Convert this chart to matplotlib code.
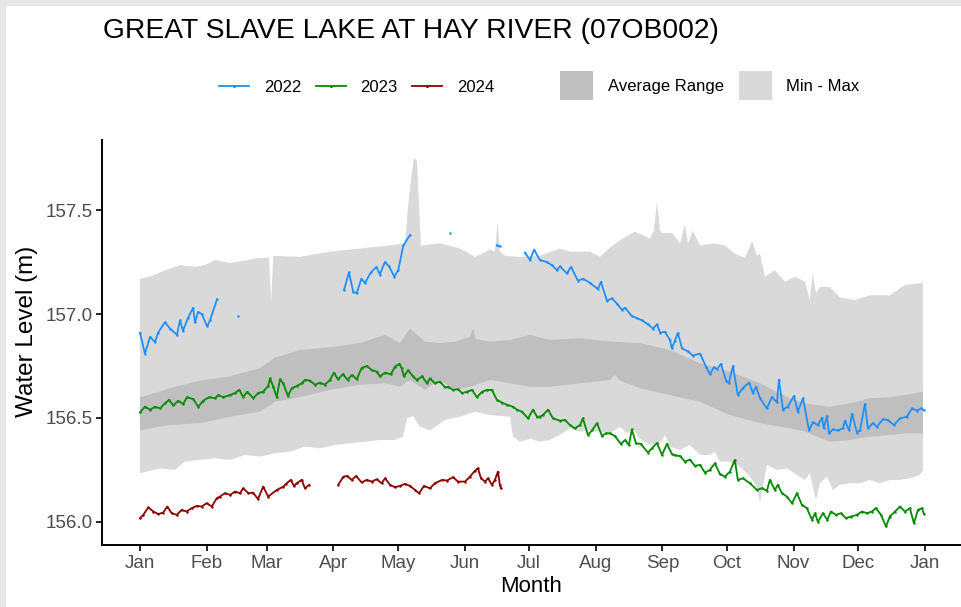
import numpy as np
import matplotlib.pyplot as plt
from matplotlib.lines import Line2D
from matplotlib.patches import Patch, Rectangle

plt.rcParams['font.family'] = ['Liberation Sans', 'DejaVu Sans']

# day of year (0 = Jan 1) for month ticks
month_days = [0, 31, 59, 90, 120, 151, 181, 212, 243, 273, 304, 334, 365]
month_labels = ['Jan', 'Feb', 'Mar', 'Apr', 'May', 'Jun',
                'Jul', 'Aug', 'Sep', 'Oct', 'Nov', 'Dec', 'Jan']
y_ticks = [156.0, 156.5, 157.0, 157.5]

# historical min - max envelope
max_days = [0, 4.7, 11.6, 18.6, 25.6, 30.2, 34.9, 41.9, 55.8, 60, 61, 62,
            74.4, 88.4, 102.3, 116.3, 123.3, 125, 127.4, 128.8, 130.7, 139.5,
            148.8, 155.8, 162.8, 165.1, 166.3, 167.4, 169.8, 176.7, 186, 195.3,
            200, 209.3, 214, 218.6, 223.3, 230.2, 237.2, 239, 240.5, 241.9,
            242.8, 247.4, 251.2, 253.5, 254.9, 257.2, 260.5, 267.4, 272.1,
            276.7, 281.4, 284.7, 287, 288.4, 290.7, 295.3, 300, 304.7, 309.3,
            311.6, 313, 314.4, 316.3, 320.9, 325.6, 332.6, 339.5, 348.8, 355.8,
            362.8, 364.2]
max_vals = [157.17, 157.18, 157.21, 157.235, 157.227, 157.235, 157.26, 157.245,
            157.27, 157.27, 157.06, 157.28, 157.275, 157.30, 157.315, 157.33,
            157.34, 157.55, 157.75, 157.74, 157.33, 157.34, 157.315, 157.275,
            157.31, 157.30, 157.44, 157.30, 157.28, 157.275, 157.28, 157.315,
            157.30, 157.30, 157.275, 157.32, 157.356, 157.396, 157.364, 157.40,
            157.54, 157.40, 157.39, 157.39, 157.34, 157.43, 157.34, 157.40,
            157.33, 157.34, 157.33, 157.29, 157.27, 157.35, 157.28, 157.29,
            157.18, 157.21, 157.155, 157.18, 157.155, 157.067, 157.20, 157.10,
            157.13, 157.13, 157.08, 157.067, 157.09, 157.09, 157.14, 157.148,
            157.15]
min_days = [0, 9.3, 16.3, 20.9, 27.9, 34.9, 41.9, 48.8, 55.8, 62.8, 69.8, 76.7,
            83.7, 90.7, 97.7, 104.7, 111.6, 118.6, 122.3, 124.2, 127, 130.2,
            134.9, 141.9, 148.8, 155.8, 162.8, 172.1, 173.5, 176.7, 181.4, 186,
            190.7, 195.3, 200, 204.7, 209.3, 214, 218.6, 223.3, 226.5, 229.3,
            232.6, 237.2, 241.9, 244.2, 246.5, 251.2, 255.8, 260.5, 265.1,
            267.4, 269.8, 274.4, 279.1, 283.7, 287, 288.4, 289.8, 291.6, 296.3,
            300.9, 305.6, 309.3, 311.6, 314.4, 316.3, 319.5, 322.3, 325.6,
            330.2, 334.9, 339.5, 344.2, 348.8, 353.5, 358.1, 362.8, 364.2]
min_vals = [156.234, 156.258, 156.25, 156.29, 156.298, 156.306, 156.298,
            156.322, 156.314, 156.33, 156.338, 156.362, 156.354, 156.37, 156.378,
            156.386, 156.394, 156.394, 156.41, 156.498, 156.51, 156.458, 156.44,
            156.49, 156.506, 156.53, 156.514, 156.506, 156.41, 156.386, 156.40,
            156.386, 156.394, 156.418, 156.45, 156.434, 156.44, 156.434, 156.426,
            156.458, 156.426, 156.45, 156.40, 156.37, 156.378, 156.418, 156.362,
            156.346, 156.37, 156.322, 156.322, 156.338, 156.29, 156.29, 156.266,
            156.218, 156.17, 156.09, 156.17, 156.274, 156.25, 156.258, 156.226,
            156.202, 156.234, 156.106, 156.186, 156.218, 156.154, 156.178,
            156.186, 156.186, 156.202, 156.186, 156.202, 156.202, 156.21,
            156.226, 156.25]

# average range (upper / lower quartile band)
avg_hi_days = [0, 7, 14, 27.9, 41.9, 55.8, 62.8, 74.4, 88.4, 102.3, 114, 120.9,
               125.6, 132.6, 139.5, 146.5, 153.5, 154.9, 156.3, 162.8, 172.1,
               181.4, 190.7, 204.7, 218.6, 232.6, 246.5, 260.5, 274.4, 288.4,
               302.3, 309.3, 320.9, 330.2, 339.5, 348.8, 355.8, 364.2]
avg_hi_vals = [156.60, 156.62, 156.643, 156.68, 156.70, 156.74, 156.79, 156.827,
               156.84, 156.86, 156.90, 156.86, 156.93, 156.867, 156.86, 156.867,
               156.89, 156.93, 156.88, 156.867, 156.875, 156.90, 156.875,
               156.884, 156.867, 156.86, 156.827, 156.763, 156.723, 156.667,
               156.595, 156.57, 156.554, 156.57, 156.595, 156.60, 156.61, 156.626]
avg_lo_days = [0, 7, 14, 27.9, 41.9, 55.8, 62.8, 74.4, 88.4, 102.3, 114, 120.9,
               125.6, 132.6, 139.5, 146.5, 153.5, 162.8, 172.1, 181.4, 190.7,
               204.7, 218.6, 220.9, 223.3, 232.6, 246.5, 260.5, 274.4, 288.4,
               302.3, 309.3, 320.9, 330.2, 339.5, 348.8, 355.8, 364.2]
avg_lo_vals = [156.44, 156.455, 156.466, 156.475, 156.506, 156.53, 156.578,
               156.60, 156.635, 156.66, 156.667, 156.65, 156.683, 156.635,
               156.683, 156.635, 156.65, 156.683, 156.667, 156.65, 156.65,
               156.667, 156.683, 156.707, 156.68, 156.643, 156.61, 156.578,
               156.514, 156.475, 156.45, 156.434, 156.386, 156.394, 156.41,
               156.418, 156.426, 156.426]

# 2022 daily levels (separate pieces where data are missing)
d22_a = [0, 2.3, 4.7, 7.0, 8.4, 11.6, 14.0, 17.2, 18.6, 20.0, 22.3, 24.7, 25.6,
         27.0, 28.8, 31.2, 32.6, 35.8]
v22_a = [156.91, 156.81, 156.89, 156.865, 156.91, 156.96, 156.93, 156.90,
         156.97, 156.92, 156.98, 157.03, 156.96, 157.01, 157.00, 156.94,
         156.97, 157.07]
d22_b = [45.6]
v22_b = [156.99]
d22_c = [94.9, 97.2, 99.2, 100.8, 103.0, 104.7, 107.4, 110.0, 111.6, 113.9,
         115.8, 118.3, 120.1, 122.5, 125.6]
v22_c = [157.115, 157.20, 157.107, 157.10, 157.17, 157.15, 157.20, 157.227,
         157.19, 157.25, 157.23, 157.18, 157.21, 157.33, 157.38]
d22_d = [144.2]
v22_d = [157.39]
d22_e = [166.0, 167.5]
v22_e = [157.33, 157.325]
d22_f = [179.1, 181.4, 183.3, 186.0, 189.3, 191.6, 194.0, 195.3, 198.6, 200.5,
         203.7, 206.0, 209.3, 213.0, 214.4, 217.2, 219.5, 221.9, 224.2, 225.6,
         228.8, 231.2, 233.5, 236.3, 238.6, 240.5, 241.9, 244.2, 246.5, 247.4,
         248.8, 250.2, 252.1, 254.9, 257.2, 260.5, 263.3, 265.1, 267.0, 268.4,
         270.2, 272.6, 273.9, 275.8, 278.1, 280.5, 283.3, 285.1, 286.5, 288.4,
         291.6, 293.9, 296.3, 297.2, 299.1, 301.4, 304.2, 306.0, 308.4, 311.2,
         313.0, 315.3, 317.2, 318.1, 319.5, 320.5, 322.3, 324.7, 327.0, 327.9,
         329.8, 331.2, 333.5, 334.9, 337.2, 338.6, 340.9, 342.8, 345.6, 347.9,
         350.7, 353.5, 356.7, 359.1, 361.4, 363.3, 364.7]
v22_f = [157.295, 157.26, 157.31, 157.26, 157.25, 157.235, 157.21, 157.23,
         157.195, 157.227, 157.16, 157.17, 157.15, 157.12, 157.155, 157.064,
         157.075, 157.05, 157.02, 157.03, 156.99, 156.98, 156.97, 156.95,
         156.93, 156.95, 156.91, 156.915, 156.875, 156.835, 156.87, 156.91,
         156.835, 156.82, 156.80, 156.81, 156.747, 156.71, 156.745, 156.734,
         156.76, 156.68, 156.667, 156.75, 156.61, 156.645, 156.67, 156.62,
         156.65, 156.595, 156.546, 156.60, 156.575, 156.685, 156.54, 156.555,
         156.606, 156.53, 156.595, 156.44, 156.48, 156.466, 156.50, 156.45,
         156.51, 156.426, 156.445, 156.44, 156.45, 156.487, 156.44, 156.52,
         156.43, 156.44, 156.567, 156.45, 156.475, 156.458, 156.494, 156.49,
         156.466, 156.498, 156.506, 156.546, 156.535, 156.546, 156.538]

# 2023 daily levels
d23 = [0, 2.3, 4.7, 7.0, 9.3, 11.6, 13.5, 15.5, 17.8, 20.1, 21.9, 24.8, 27.1,
       29.4, 32.2, 34.9, 36.4, 38.8, 41.9, 44.2, 46.2, 48.0, 49.9, 52.7, 55.0,
       57.3, 59.6, 60.5, 62.0, 63.6, 65.1, 66.6, 68.8, 70.6, 73.0, 75.3, 76.7,
       79.1, 81.4, 83.7, 86.0, 88.4, 90.2, 92.1, 94.4, 96.6, 98.6, 100.8, 103.1,
       105.5, 107.8, 110.1, 111.6, 114.0, 116.7, 118.6, 120.7, 121.7, 122.8,
       124.7, 127.0, 128.8, 131.2, 133.5, 134.9, 137.2, 139.5, 141.9, 143.3,
       145.6, 147.9, 149.8, 152.1, 154.4, 156.7, 159.1, 161.4, 163.7, 166.0,
       168.4, 170.7, 173.5, 175.3, 177.7, 180.5, 182.8, 184.7, 186.0, 187.4,
       189.8, 192.1, 195.3, 197.7, 200.0, 202.3, 204.7, 206.0, 208.4, 210.2,
       212.6, 214.9, 216.7, 218.6, 220.9, 223.7, 225.6, 227.4, 228.8, 230.7,
       233.0, 236.3, 238.1, 240.5, 242.8, 245.1, 247.4, 248.8, 251.2, 253.5,
       255.8, 258.1, 260.5, 262.8, 265.1, 267.4, 269.8, 272.1, 274.4, 276.7,
       278.1, 280.5, 283.7, 287.0, 289.3, 291.6, 293.0, 295.3, 296.7, 298.6,
       300.9, 303.3, 305.6, 307.9, 310.2, 312.6, 314.0, 315.3, 317.7, 319.7,
       321.4, 323.7, 326.0, 328.4, 330.7, 333.5, 335.8, 338.1, 340.5, 342.3,
       344.7, 347.0, 348.8, 351.2, 353.5, 355.8, 358.1, 360.0, 361.9, 363.7,
       364.7]
v23 = [156.527, 156.554, 156.54, 156.554, 156.546, 156.57, 156.587, 156.56,
       156.583, 156.567, 156.60, 156.59, 156.554, 156.583, 156.60, 156.595,
       156.61, 156.60, 156.61, 156.62, 156.635, 156.60, 156.626, 156.595,
       156.62, 156.626, 156.654, 156.69, 156.65, 156.60, 156.686, 156.667,
       156.606, 156.643, 156.654, 156.667, 156.683, 156.68, 156.66, 156.67,
       156.66, 156.683, 156.718, 156.686, 156.71, 156.683, 156.707, 156.686,
       156.74, 156.75, 156.73, 156.723, 156.70, 156.718, 156.71, 156.747,
       156.76, 156.74, 156.70, 156.73, 156.70, 156.683, 156.70, 156.667,
       156.69, 156.667, 156.675, 156.647, 156.65, 156.635, 156.638, 156.62,
       156.626, 156.635, 156.60, 156.626, 156.635, 156.635, 156.587, 156.574,
       156.563, 156.554, 156.54, 156.53, 156.498, 156.54, 156.506, 156.506,
       156.514, 156.54, 156.498, 156.487, 156.49, 156.466, 156.45, 156.466,
       156.498, 156.418, 156.44, 156.475, 156.413, 156.426, 156.426, 156.413,
       156.375, 156.394, 156.37, 156.445, 156.378, 156.375, 156.333, 156.354,
       156.38, 156.322, 156.375, 156.327, 156.32, 156.317, 156.29, 156.30,
       156.27, 156.274, 156.237, 156.25, 156.282, 156.23, 156.218, 156.242,
       156.298, 156.202, 156.21, 156.186, 156.154, 156.162, 156.15, 156.202,
       156.154, 156.178, 156.138, 156.122, 156.09, 156.138, 156.082, 156.066,
       156.01, 156.042, 156.0, 156.042, 156.01, 156.05, 156.034, 156.042,
       156.018, 156.026, 156.034, 156.05, 156.042, 156.05, 156.066, 156.034,
       155.978, 156.026, 156.05, 156.074, 156.05, 156.066, 155.994, 156.058,
       156.066, 156.038]

# 2024 daily levels
d24_a = [0, 1.5, 3.9, 6.2, 8.5, 10.8, 12.7, 14.7, 17.1, 19.4, 21.7, 24.0, 26.4,
         28.7, 31.0, 33.4, 35.7, 37.2, 39.5, 41.9, 44.2, 46.5, 48.0, 50.4, 52.6,
         54.9, 57.3, 59.6, 63.7, 66.7, 67.9, 70.1, 71.6, 72.9, 75.2, 76.7, 78.7]
v24_a = [156.018, 156.034, 156.07, 156.05, 156.038, 156.045, 156.074, 156.042,
         156.034, 156.058, 156.05, 156.066, 156.077, 156.074, 156.09, 156.074,
         156.114, 156.122, 156.138, 156.13, 156.146, 156.138, 156.162, 156.138,
         156.141, 156.11, 156.17, 156.122, 156.154, 156.17, 156.183, 156.202,
         156.173, 156.186, 156.202, 156.162, 156.178]
d24_b = [92.2, 94.6, 96.4, 98.5, 100.5, 103.1, 105.4, 107.8, 110.1, 112.4, 114.0,
         116.3, 118.6, 120.9, 123.3, 125.6, 127.9, 129.8, 132.1, 134.9, 137.2,
         140.5, 142.8, 145.6, 147.9, 151.2, 153.5, 155.8, 157.2, 158.6, 160.5,
         161.9, 163.7, 165.1, 166.5, 167.4, 167.9]
v24_b = [156.178, 156.218, 156.221, 156.202, 156.221, 156.19, 156.202, 156.194,
         156.205, 156.186, 156.21, 156.178, 156.167, 156.173, 156.183, 156.173,
         156.154, 156.138, 156.173, 156.162, 156.186, 156.202, 156.199, 156.215,
         156.194, 156.194, 156.218, 156.246, 156.258, 156.21, 156.194, 156.21,
         156.178, 156.202, 156.242, 156.178, 156.162]


def join(*pieces):
    # glue (days, values) pieces together with NaN gaps
    xs, ys = [], []
    for d, v in pieces:
        xs += list(d) + [np.nan]
        ys += list(v) + [np.nan]
    return np.array(xs), np.array(ys)


x22, y22 = join((d22_a, v22_a), (d22_b, v22_b), (d22_c, v22_c),
                (d22_d, v22_d), (d22_e, v22_e), (d22_f, v22_f))
x24, y24 = join((d24_a, v24_a), (d24_b, v24_b))

c22, c23, c24 = '#1E90FF', '#008B00', '#8B0000'
c_avg, c_mm = '#BFBFBF', '#D9D9D9'

fig = plt.figure(figsize=(9.61, 6.07), dpi=100)
fig.patch.set_facecolor('white')
# light grey screenshot frame on left and top
fig.patches.append(Rectangle((0, 0), 5 / 961, 1, transform=fig.transFigure,
                             color='#E4E6E8', zorder=0))
fig.patches.append(Rectangle((0, 1 - 5 / 607), 1, 5 / 607, transform=fig.transFigure,
                             color='#E4E6E8', zorder=0))

ax = fig.add_axes([102 / 961, 62 / 607, 859 / 961, 405 / 607])
ax.set_facecolor('white')

ax.fill(np.concatenate([max_days, min_days[::-1]]),
        np.concatenate([max_vals, min_vals[::-1]]),
        color=c_mm, lw=0, zorder=1)
ax.fill(np.concatenate([avg_hi_days, avg_lo_days[::-1]]),
        np.concatenate([avg_hi_vals, avg_lo_vals[::-1]]),
        color=c_avg, lw=0, zorder=2)

for x, y, c in [(x22, y22, c22), (np.array(d23), np.array(v23), c23), (x24, y24, c24)]:
    ax.plot(x, y, color=c, lw=1.3, zorder=3)
    ax.plot(x, y, '.', color=c, ms=1.5, zorder=3)

ax.set_xlim(-17.67, 381.9)
ax.set_ylim(155.889, 157.837)
ax.set_xticks(month_days)
ax.set_xticklabels(month_labels)
ax.set_yticks(y_ticks)
ax.set_yticklabels([f'{t:.1f}' for t in y_ticks])
ax.tick_params(axis='both', length=4, width=1.2, color='black',
               labelcolor='#4D4D4D', labelsize=13.5, pad=3)
for s in ['top', 'right']:
    ax.spines[s].set_visible(False)
for s in ['left', 'bottom']:
    ax.spines[s].set_linewidth(1.4)
    ax.spines[s].set_color('black')

fig.text(531 / 961, 1 - 586 / 607, 'Month', ha='center', va='center', fontsize=16)
fig.text(27 / 961, 1 - 331 / 607, 'Water Level (m)', ha='center', va='center',
         rotation=90, fontsize=17.5)
fig.text(103 / 961, 1 - 31 / 607, 'GREAT SLAVE LAKE AT HAY RIVER (07OB002)',
         ha='left', va='center', fontsize=20.3)

line_handles = [Line2D([], [], color=c, lw=1.3, marker='.', ms=2.5) for c in (c22, c23, c24)]
leg1 = fig.legend(line_handles, ['2022', '2023', '2024'], loc='center left',
                  bbox_to_anchor=(219 / 961, 1 - 87 / 607), ncol=3, frameon=False,
                  fontsize=12, handlelength=1.8, handletextpad=0.9,
                  columnspacing=0.85, borderpad=0, borderaxespad=0)
fill_handles = [Patch(facecolor=c_avg, edgecolor='none'), Patch(facecolor=c_mm, edgecolor='none')]
leg2 = fig.legend(fill_handles, ['Average Range', 'Min - Max'], loc='center left',
                  bbox_to_anchor=(560 / 961, 1 - 86 / 607), ncol=2, frameon=False,
                  fontsize=12, handlelength=2.0, handleheight=2.3, handletextpad=0.85,
                  columnspacing=0.9, borderpad=0, borderaxespad=0)

fig.savefig('out.png', dpi=100, facecolor='white')
